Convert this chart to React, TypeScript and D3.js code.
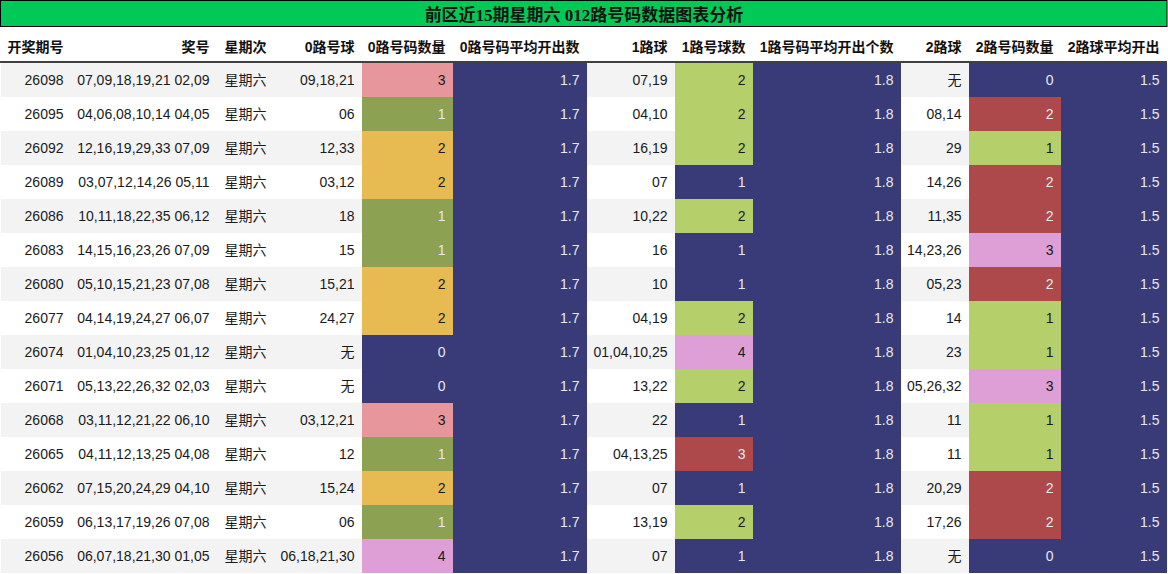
import * as d3 from "d3";
import { useEffect, useRef } from "react";

const WIDTH = 1168;
const HEIGHT = 574;
const TITLE = "前区近15期星期六 012路号码数据图表分析";

// 数据
const periods = [26098, 26095, 26092, 26089, 26086, 26083, 26080, 26077, 26074, 26071, 26068, 26065, 26062, 26059, 26056];
const draws = [
  "07,09,18,19,21 02,09",
  "04,06,08,10,14 04,05",
  "12,16,19,29,33 07,09",
  "03,07,12,14,26 05,11",
  "10,11,18,22,35 06,12",
  "14,15,16,23,26 07,09",
  "05,10,15,21,23 07,08",
  "04,14,19,24,27 06,07",
  "01,04,10,23,25 01,12",
  "05,13,22,26,32 02,03",
  "03,11,12,21,22 06,10",
  "04,11,12,13,25 04,08",
  "07,15,20,24,29 04,10",
  "06,13,17,19,26 07,08",
  "06,07,18,21,30 01,05",
];
const weekdays = Array(15).fill("星期六");
const route0 = ["09,18,21", "06", "12,33", "03,12", "18", "15", "15,21", "24,27", "无", "无", "03,12,21", "12", "15,24", "06", "06,18,21,30"];
const count0 = [3, 1, 2, 2, 1, 1, 2, 2, 0, 0, 3, 1, 2, 1, 4];
const route1 = ["07,19", "04,10", "16,19", "07", "10,22", "16", "10", "04,19", "01,04,10,25", "13,22", "22", "04,13,25", "07", "13,19", "07"];
const count1 = [2, 2, 2, 1, 2, 1, 1, 2, 4, 2, 1, 3, 1, 2, 1];
const route2 = ["无", "08,14", "29", "14,26", "11,35", "14,23,26", "05,23", "14", "23", "05,26,32", "11", "11", "20,29", "17,26", "无"];
const count2 = [0, 2, 1, 2, 2, 3, 2, 1, 1, 3, 1, 1, 2, 2, 0];

const headers = [
  "开奖期号", "奖号", "星期次", "0路号球", "0路号码数量", "0路号码平均开出数",
  "1路球", "1路号球数", "1路号码平均开出个数", "2路球", "2路号码数量", "2路球平均开出",
];

// 列宽（布局）
const COL_EDGES = [1, 71, 217, 274, 362, 453, 587, 675, 753, 901, 969, 1061, 1167];
const PAD = 7.5;
const TITLE_H = 26;
const HEADER_BOTTOM = 62;
const BODY_TOP = 63;

const PALETTE = [
  "#393b79", "#5254a3", "#6b6ecf", "#9c9ede", "#637939", "#8ca252", "#b5cf6b", "#cedb9c",
  "#8c6d31", "#bd9e39", "#e7ba52", "#e7cb94", "#843c39", "#ad494a", "#d6616b", "#e7969c",
  "#7b4173", "#a55194", "#ce6dbd", "#de9ed6",
];

const SANS = "'Liberation Sans', 'Noto Sans CJK SC', sans-serif";

function colorScale(values: number[]) {
  const [lo, hi] = d3.extent(values) as [number, number];
  if (lo === hi) return () => PALETTE[0];
  const q = d3.scaleQuantize<string>().domain([lo, hi]).range(PALETTE);
  return (v: number) => q(v);
}

export default function App() {
  const ref = useRef<SVGSVGElement>(null);

  useEffect(() => {
    const svg = d3.select(ref.current);
    svg.selectAll("*").remove();

    const fmt = d3.format(".1f");
    const avg0 = Array(15).fill(fmt(d3.mean(count0) as number));
    const avg1 = Array(15).fill(fmt(d3.mean(count1) as number));
    const avg2 = Array(15).fill(fmt(d3.mean(count2) as number));

    const columns: { values: (string | number)[]; colored?: (v: number) => string; num?: number[] }[] = [
      { values: periods },
      { values: draws },
      { values: weekdays },
      { values: route0 },
      { values: count0, num: count0, colored: colorScale(count0) },
      { values: avg0, num: avg0.map(Number), colored: colorScale(avg0.map(Number)) },
      { values: route1 },
      { values: count1, num: count1, colored: colorScale(count1) },
      { values: avg1, num: avg1.map(Number), colored: colorScale(avg1.map(Number)) },
      { values: route2 },
      { values: count2, num: count2, colored: colorScale(count2) },
      { values: avg2, num: avg2.map(Number), colored: colorScale(avg2.map(Number)) },
    ];

    const yScale = d3
      .scaleBand<number>()
      .domain(d3.range(periods.length))
      .range([BODY_TOP, HEIGHT - 1]);

    const x0 = (i: number) => COL_EDGES[i];
    const x1 = (i: number) => COL_EDGES[i + 1];

    // 标题
    svg
      .append("rect")
      .attr("x", 0.5)
      .attr("y", 0.5)
      .attr("width", COL_EDGES[COL_EDGES.length - 1] - 0.5)
      .attr("height", TITLE_H)
      .attr("fill", "#00c957")
      .attr("stroke", "#000")
      .attr("stroke-width", 1);
    svg
      .append("text")
      .attr("x", (COL_EDGES[0] + COL_EDGES[COL_EDGES.length - 1]) / 2)
      .attr("y", 20.5)
      .attr("text-anchor", "middle")
      .attr("font-family", "'Liberation Serif', 'Noto Sans CJK SC', serif")
      .attr("font-weight", "bold")
      .attr("font-size", 17)
      .attr("fill", "#111")
      .text(TITLE);

    // 表头
    svg
      .append("g")
      .selectAll("text")
      .data(headers)
      .join("text")
      .attr("x", (_, i) => x1(i) - PAD)
      .attr("y", 52)
      .attr("text-anchor", "end")
      .attr("font-family", SANS)
      .attr("font-weight", "bold")
      .attr("font-size", 14)
      .attr("fill", "#111")
      .text((d) => d);

    // 斑马纹
    svg
      .append("g")
      .selectAll("rect")
      .data(d3.range(periods.length))
      .join("rect")
      .attr("x", COL_EDGES[0])
      .attr("y", (d) => yScale(d) as number)
      .attr("width", COL_EDGES[COL_EDGES.length - 1] - COL_EDGES[0])
      .attr("height", yScale.bandwidth())
      .attr("fill", (d) => (d % 2 === 0 ? "#f3f3f3" : "#ffffff"));

    // 单元格
    columns.forEach((col, ci) => {
      const g = svg.append("g");
      const color = col.colored;
      if (color && col.num) {
        g.selectAll("rect")
          .data(col.num)
          .join("rect")
          .attr("x", x0(ci))
          .attr("y", (_, i) => yScale(i) as number)
          .attr("width", x1(ci) - x0(ci))
          .attr("height", yScale.bandwidth())
          .attr("fill", (d) => color(d));
      }
      g.selectAll("text")
        .data(col.values)
        .join("text")
        .attr("x", x1(ci) - PAD)
        .attr("y", (_, i) => (yScale(i) as number) + yScale.bandwidth() / 2)
        .attr("dy", "0.36em")
        .attr("text-anchor", "end")
        .attr("font-family", SANS)
        .attr("font-size", 14)
        .attr("fill", (_, i) => {
          if (!color || !col.num) return "#1a1a1a";
          return d3.hsl(color(col.num[i])).l > 0.55 ? "#1a1a1a" : "#e8e8ee";
        })
        .text((d) => String(d));
    });

    // 表头下边线
    svg
      .append("line")
      .attr("x1", 0)
      .attr("x2", COL_EDGES[COL_EDGES.length - 1])
      .attr("y1", HEADER_BOTTOM)
      .attr("y2", HEADER_BOTTOM)
      .attr("stroke", "#000")
      .attr("stroke-width", 1.5);
  }, []);

  return (
    <svg
      ref={ref}
      width={WIDTH}
      height={HEIGHT}
      style={{ position: "absolute", left: 0, top: 0, background: "#fff" }}
    />
  );
}
